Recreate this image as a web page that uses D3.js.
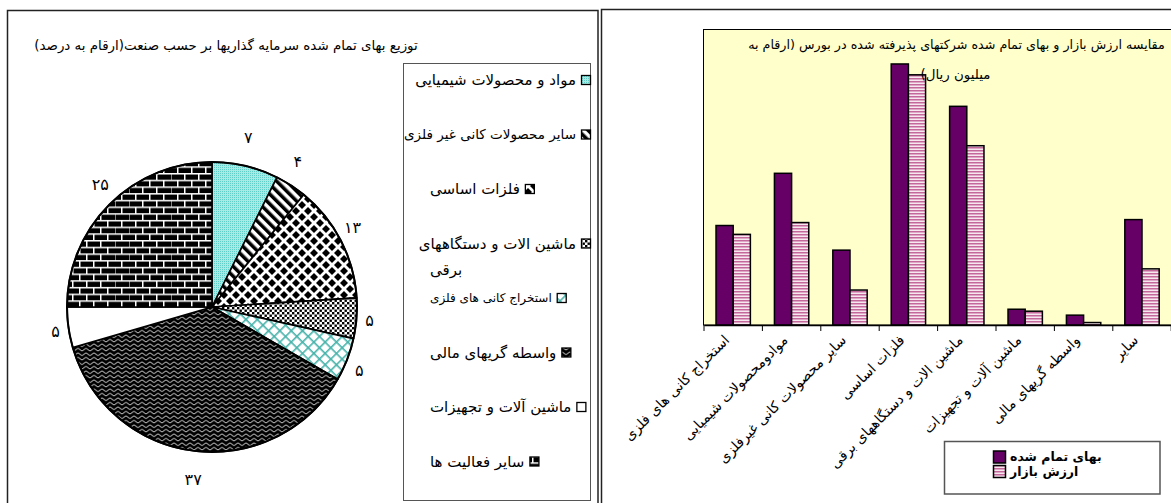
<!DOCTYPE html>
<html><head><meta charset="utf-8">
<script src="https://cdn.jsdelivr.net/npm/d3@7"></script>
<style>body{margin:0;background:#fff} svg{display:block} text{font-family:"DejaVu Sans",sans-serif;fill:#000}</style>
</head><body><svg id="c" width="1171" height="503"></svg>
<script>
// ---------- DATA ----------
const pieTitle = "توزیع بهای تمام شده سرمایه گذاریها بر حسب صنعت(ارقام به درصد)";
const pieCategories = ["مواد و محصولات شیمیایی","سایر محصولات کانی غیر فلزی","فلزات اساسی","ماشین الات و دستگاههای برقی","استخراج کانی های فلزی","واسطه گریهای مالی","ماشین آلات و تجهیزات","سایر فعالیت ها"];
const pieLegendLines = [["مواد و محصولات شیمیایی"],["سایر محصولات کانی غیر فلزی"],["فلزات اساسی"],["ماشین الات  و دستگاههای","برقی"],["استخراج کانی های فلزی"],["واسطه گریهای مالی"],["ماشین آلات و تجهیزات"],["سایر فعالیت ها"]];
const pieValues = [7.4, 3.5, 13.1, 4.5, 4.8, 37.2, 4.5, 25.0];
const pieLabels = ["۷","۴","۱۳","۵","۵","۳۷","۵","۲۵"];

const barTitleLines = ["مقایسه ارزش بازار و بهای تمام شده شرکتهای پذیرفته شده در بورس (ارقام به","میلیون ریال)"];
const barCategories = ["استخراج کانی های فلزی","موادومحصولات شیمیایی","سایر محصولات کانی غیرفلزی","فلزات اساسی","ماشین الات و دستگاههای برقی","ماشین آلات و تجهیزات","واسطه گریهای مالی","سایر"];
const barSeries = ["بهای تمام شده","ارزش بازار"];
const costValues   = [1010, 1540, 760, 2650, 2220, 160, 100, 1070];
const marketValues = [ 920, 1040, 355, 2540, 1820, 140,  25,  570];

// ---------- SETUP ----------
const svg = d3.select("#c");
svg.append("rect").attr("width",1171).attr("height",503).attr("fill","#fff");
const defs = svg.append("defs");
function pat(id,w,h,tr){const p=defs.append("pattern").attr("id",id).attr("patternUnits","userSpaceOnUse").attr("width",w).attr("height",h);if(tr)p.attr("patternTransform",tr);return p;}
let p;
p=pat("p0",2,2); p.append("rect").attr("width",2).attr("height",2).attr("fill","#a6ebe6"); p.append("rect").attr("width",1).attr("height",1).attr("fill","#62cdc7");
p=pat("p1",7,7,"rotate(-45)"); p.append("rect").attr("width",7).attr("height",7).attr("fill","#fff"); p.append("rect").attr("width",3.5).attr("height",7).attr("fill","#000");
p=pat("p2",12,12); p.append("rect").attr("width",12).attr("height",12).attr("fill","#fff");
[[6,6],[0,0],[12,0],[0,12],[12,12]].forEach(([cx,cy])=>p.append("polygon").attr("points",`${cx},${cy-4} ${cx+4},${cy} ${cx},${cy+4} ${cx-4},${cy}`).attr("fill","#000"));
p=pat("p3",5,5); p.append("rect").attr("width",5).attr("height",5).attr("fill","#fff");
p.append("rect").attr("width",2.4).attr("height",2.4).attr("fill","#000"); p.append("rect").attr("x",2.5).attr("y",2.5).attr("width",2.4).attr("height",2.4).attr("fill","#000");
p=pat("p4",8,8,"rotate(45)"); p.append("rect").attr("width",8).attr("height",8).attr("fill","#fff");
p.append("rect").attr("width",1.6).attr("height",8).attr("fill","#45b2aa"); p.append("rect").attr("width",8).attr("height",1.6).attr("fill","#45b2aa");
p=pat("p5",8,4.5); p.append("rect").attr("width",8).attr("height",4.5).attr("fill","#000");
p.append("path").attr("d","M0,2.2 C2,0.6 2,0.6 4,2.2 S6,3.8 8,2.2").attr("fill","none").attr("stroke","#fff").attr("stroke-width",0.9);
p=pat("p6",4,4); p.append("rect").attr("width",4).attr("height",4).attr("fill","#fff");
p=pat("p7",14,13.4); p.append("rect").attr("width",14).attr("height",13.4).attr("fill","#000");
[[0,0,14,1.5],[0,6.7,14,1.5],[0,0,1.5,6.7],[7,6.7,1.5,6.7]].forEach(([x,y,w,h])=>p.append("rect").attr("x",x).attr("y",y).attr("width",w).attr("height",h).attr("fill","#fff"));
p=pat("pk",4,3); p.append("rect").attr("width",4).attr("height",3).attr("fill","#f7e8f0"); p.append("rect").attr("width",4).attr("height",1.5).attr("fill","#c4679b");

// text fitted to a target width by adjusting font size (no glyph stretching)
function txt(g,str,o){const t=g.append("text").attr("y",o.y).attr("font-size",o.size||14).attr("direction","rtl").attr("text-anchor","middle").text(str);
 if(o.w){const w=t.node().getComputedTextLength(); if(w>o.w) t.attr("font-size",(o.size||14)*o.w/w);}
 t.attr("x",o.x); return t;}

// ---------- LEFT PANEL (PIE) ----------
const L = svg.append("g");
L.append("rect").attr("x",7.5).attr("y",10.5).attr("width",590.5).attr("height",520).attr("fill","none").attr("stroke","#222").attr("stroke-width",1.5);
txt(L,pieTitle,{x:226,y:50,size:16,w:384});

const cx=212, cy=307, R=145;
const pie=d3.pie().sort(null).value(d=>d);
const arcs=pie(pieValues);
const arc=d3.arc().innerRadius(0).outerRadius(R);
const pg=L.append("g").attr("transform",`translate(${cx},${cy})`);
pg.selectAll("path.s").data(arcs).join("path").attr("class","s").attr("d",arc)
  .attr("fill",(d,i)=>`url(#p${i})`).attr("stroke","#000").attr("stroke-width",1.6).attr("stroke-linejoin","round");
pg.append("circle").attr("r",R).attr("fill","none").attr("stroke","#000").attr("stroke-width",2);
arcs.forEach((d,i)=>{const a=(d.startAngle+d.endAngle)/2;
  pg.append("text").attr("x",158*Math.sin(a)).attr("y",-174*Math.cos(a)).attr("dy","0.35em").attr("text-anchor","middle").attr("font-size",16).text(pieLabels[i]);});

// legend
L.append("rect").attr("x",403.5).attr("y",63.5).attr("width",187).attr("height",437).attr("fill","#fff").attr("stroke","#555").attr("stroke-width",1);
const rowY=[80,134.5,189,243.5,298,352.5,407,461.5];
pieLegendLines.forEach((lines,i)=>{
  const size = i===4?12:15;
  lines.forEach((ln,j)=>{
    const t=L.append("text").attr("font-size",size).attr("direction","rtl").attr("text-anchor","middle").attr("dy","0.35em").text(ln);
    let w=t.node().getComputedTextLength();
    if(w>172){t.attr("font-size",size*172/w);w=172;}
    if(j===0){
      const keyX=Math.min(430+w+5,581);
      const left=keyX-5-w;
      t.attr("x",left+w/2).attr("y",rowY[i]);
      L.append("rect").attr("x",keyX+0.5).attr("y",rowY[i]-4.5).attr("width",9).attr("height",9).attr("fill",`url(#p${i})`).attr("stroke","#000").attr("stroke-width",1.3);
    } else {
      t.attr("x",430+w/2).attr("y",rowY[i]+26*j);
    }
  });
});

// ---------- RIGHT PANEL (BARS) ----------
const Rg=svg.append("g");
Rg.append("rect").attr("x",601.5).attr("y",9.5).attr("width",600).attr("height",520).attr("fill","none").attr("stroke","#222").attr("stroke-width",1.5);
const x0=d3.scaleBand().domain(barCategories).range([704,1171.2]).paddingInner(0).paddingOuter(0);
const x1=d3.scaleBand().domain(barSeries).range([0,x0.bandwidth()]).paddingInner(0).paddingOuter(0.7);
const y=d3.scaleLinear().domain([0,3000]).range([325,29.5]);
Rg.append("rect").attr("x",703.5).attr("y",29.5).attr("width",500).attr("height",295.5).attr("fill","#ffffcc").attr("stroke","#000").attr("stroke-width",1);
const seriesVals=[costValues,marketValues];
const fills=["#660066","url(#pk)"];
barCategories.forEach((c,i)=>{
  barSeries.forEach((s,k)=>{
    const v=seriesVals[k][i];
    Rg.append("rect").attr("x",x0(c)+x1(s)).attr("y",y(v)).attr("width",x1.bandwidth()).attr("height",y(0)-y(v))
      .attr("fill",fills[k]).attr("stroke","#000").attr("stroke-width",1.5);
  });
});
// title inside plot
txt(Rg,barTitleLines[0],{x:(748+1165)/2,y:49,size:15,w:417});
txt(Rg,barTitleLines[1],{x:(922+989)/2,y:79,size:15,w:70});
// axis
const xAxis=d3.axisBottom(x0).tickSize(0).tickFormat("");
Rg.append("g").attr("transform","translate(0,325)").call(xAxis).call(g=>g.select(".domain").attr("stroke","#000").attr("stroke-width",1.5));
const bounds=d3.range(barCategories.length+1).map(i=>704+i*x0.step());
Rg.selectAll("line.tk").data(bounds).join("line").attr("class","tk").attr("x1",d=>d).attr("x2",d=>d).attr("y1",325).attr("y2",331).attr("stroke","#000").attr("stroke-width",1);
barCategories.forEach(c=>{
  const cxp=x0(c)+x0.bandwidth()/2-3;
  Rg.append("text").attr("transform",`translate(${cxp},341) rotate(-45)`).attr("text-anchor","end").attr("font-size",14).text(c);
});
// legend
Rg.append("rect").attr("x",944.5).attr("y",441.5).attr("width",215.5).attr("height",52.5).attr("fill","#fff").attr("stroke","#555").attr("stroke-width",1.5);
barSeries.forEach((s,k)=>{
  const yy=457+k*14.5;
  Rg.append("rect").attr("x",993.5).attr("y",yy-6).attr("width",12).attr("height",12).attr("fill",fills[k]).attr("stroke","#000").attr("stroke-width",1.5);
  const t=Rg.append("text").attr("font-size",12.5).attr("font-weight","bold").attr("direction","rtl").attr("text-anchor","middle").attr("dy","0.35em").text(s);
  const w=t.node().getComputedTextLength();
  t.attr("x",1010+w/2).attr("y",yy);
});
</script></body></html>
